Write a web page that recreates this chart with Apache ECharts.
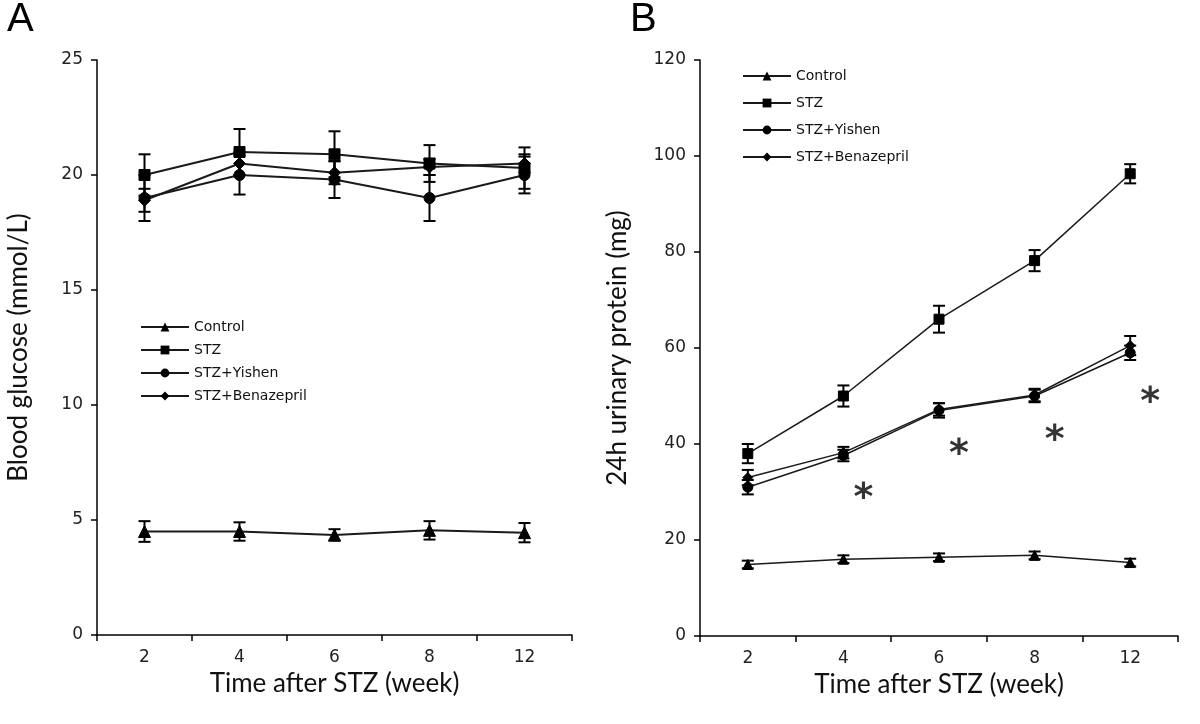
<!DOCTYPE html>
<html>
<head>
<meta charset="utf-8">
<script src="https://cdn.jsdelivr.net/npm/echarts@6/dist/echarts.min.js"></script>
<style>html,body{margin:0;padding:0;background:#fff;}#chart{width:1200px;height:724px;}</style>
</head>
<body>
<div id="chart"></div>
<script>
// ---- Data ----
const weeks = ['2', '4', '6', '8', '12'];
const seriesNames = ['Control', 'STZ', 'STZ+Yishen', 'STZ+Benazepril'];

// Panel A: blood glucose (mmol/L)
const glucoseControl = [4.5, 4.5, 4.35, 4.55, 4.45];
const glucoseControlErr = [0.45, 0.4, 0.25, 0.4, 0.42];
const glucoseSTZ = [20.0, 21.0, 20.9, 20.5, 20.3];
const glucoseSTZErr = [0.9, 1.0, 1.0, 0.8, 0.9];
const glucoseYishen = [19.0, 20.0, 19.8, 19.0, 20.0];
const glucoseYishenErr = [1.0, 0.85, 0.8, 1.0, 0.8];
const glucoseBenaz = [18.9, 20.5, 20.1, 20.35, 20.5];
const glucoseBenazErr = [0.5, 0.5, 0.5, 0.35, 0.4];

// Panel B: 24h urinary protein (mg)
const proteinControl = [14.9, 16.0, 16.4, 16.8, 15.3];
const proteinControlErr = [0.8, 0.8, 0.8, 0.8, 0.8];
const proteinSTZ = [38.0, 50.0, 66.0, 78.2, 96.3];
const proteinSTZErr = [2.0, 2.2, 2.8, 2.2, 2.0];
const proteinYishen = [31.0, 37.6, 47.0, 50.0, 59.0];
const proteinYishenErr = [1.5, 1.2, 1.5, 1.3, 1.5];
const proteinBenaz = [33.0, 38.2, 47.2, 50.2, 60.5];
const proteinBenazErr = [1.6, 1.2, 1.3, 1.3, 2.0];
const asteriskY = [null, 30.5, 39.8, 42.6, 50.5];

const glucoseTicks = {min: 0, max: 25, interval: 5};
const proteinTicks = {min: 0, max: 120, interval: 20};

// ---- Styling ----
const symbols = ['triangle', 'rect', 'circle', 'diamond'];
const symSizesA = [12, 11, 11, 12];
const symSizesB = [10, 10, 10, 10];
const lineColor = '#1a1a1a';
const tickFont = 'DejaVu Sans';
const titleFont = 'Lato';

const chart = echarts.init(document.getElementById('chart'), null, {renderer: 'canvas'});

function errData(vals, errs) {
  return vals.map((v, i) => [i, v - errs[i], v + errs[i]]);
}
function errSeries(vals, errs, axisIdx) {
  return {
    type: 'custom', xAxisIndex: axisIdx, yAxisIndex: axisIdx, z: 3, silent: true,
    data: errData(vals, errs),
    renderItem: function (params, api) {
      const lo = api.coord([api.value(0), api.value(1)]);
      const hi = api.coord([api.value(0), api.value(2)]);
      const w = 6;
      const st = {stroke: '#000', lineWidth: 2};
      return {type: 'group', children: [
        {type: 'line', shape: {x1: lo[0], y1: lo[1], x2: hi[0], y2: hi[1]}, style: st},
        {type: 'line', shape: {x1: lo[0] - w, y1: lo[1], x2: lo[0] + w, y2: lo[1]}, style: st},
        {type: 'line', shape: {x1: hi[0] - w, y1: hi[1], x2: hi[0] + w, y2: hi[1]}, style: st}
      ]};
    }
  };
}
function lineSeries(name, vals, idx, axisIdx, sizes, lw) {
  return {
    name: name, type: 'line', xAxisIndex: axisIdx, yAxisIndex: axisIdx, z: 4,
    data: vals, symbol: symbols[idx], symbolSize: sizes[idx],
    lineStyle: {color: lineColor, width: lw},
    itemStyle: {color: '#000', borderColor: '#000'},
    emphasis: {disabled: true}, animation: false
  };
}

const xAxisBase = {
  type: 'category', data: weeks, boundaryGap: true,
  axisLine: {lineStyle: {color: '#000', width: 1.5}},
  axisTick: {show: true, alignWithLabel: false, length: 6, lineStyle: {color: '#000', width: 1.5}},
  axisLabel: {color: '#222', fontFamily: tickFont, fontSize: 17, margin: 14},
  splitLine: {show: false},
  name: 'Time after STZ (week)', nameLocation: 'middle', nameGap: 36,
  nameTextStyle: {color: '#111', fontFamily: titleFont, fontSize: 26}
};
const yAxisBase = {
  type: 'value',
  axisLine: {show: true, lineStyle: {color: '#000', width: 1.5}},
  axisTick: {show: true, length: 6, lineStyle: {color: '#000', width: 1.5}},
  axisLabel: {color: '#222', fontFamily: tickFont, fontSize: 17, margin: 14},
  splitLine: {show: false},
  nameLocation: 'middle', nameRotate: 90,
  nameTextStyle: {color: '#111', fontFamily: titleFont, fontSize: 26}
};

const legendBase = {
  data: seriesNames, orient: 'vertical',
  itemWidth: 48, itemHeight: 11, selectedMode: false,
  textStyle: {color: '#111', fontFamily: tickFont, fontSize: 14}
};

const option = {
  backgroundColor: '#fff',
  animation: false,
  graphic: [
    {type: 'text', left: 7, top: 0, style: {text: 'A', font: '40px "Liberation Sans"', fill: '#000'}},
    {type: 'text', left: 630, top: 0, style: {text: 'B', font: '40px "Liberation Sans"', fill: '#000'}}
  ],
  grid: [
    {left: 97, top: 60, width: 475, height: 575},
    {left: 700, top: 60, width: 478, height: 576}
  ],
  xAxis: [
    Object.assign({}, xAxisBase, {gridIndex: 0}),
    Object.assign({}, xAxisBase, {gridIndex: 1})
  ],
  yAxis: [
    Object.assign({}, yAxisBase, glucoseTicks, {gridIndex: 0, name: 'Blood glucose (mmol/L)', nameGap: 65}),
    Object.assign({}, yAxisBase, proteinTicks, {gridIndex: 1, name: '24h urinary protein (mg)', nameGap: 69})
  ],
  legend: [
    Object.assign({}, legendBase, {left: 135, top: 315, itemGap: 9}),
    Object.assign({}, legendBase, {left: 737, top: 64, itemGap: 13})
  ],
  series: [
    errSeries(glucoseControl, glucoseControlErr, 0),
    errSeries(glucoseSTZ, glucoseSTZErr, 0),
    errSeries(glucoseYishen, glucoseYishenErr, 0),
    errSeries(glucoseBenaz, glucoseBenazErr, 0),
    lineSeries('Control', glucoseControl, 0, 0, symSizesA, 2),
    lineSeries('STZ', glucoseSTZ, 1, 0, symSizesA, 2),
    lineSeries('STZ+Yishen', glucoseYishen, 2, 0, symSizesA, 2),
    lineSeries('STZ+Benazepril', glucoseBenaz, 3, 0, symSizesA, 2),

    errSeries(proteinControl, proteinControlErr, 1),
    errSeries(proteinSTZ, proteinSTZErr, 1),
    errSeries(proteinYishen, proteinYishenErr, 1),
    errSeries(proteinBenaz, proteinBenazErr, 1),
    lineSeries('Control', proteinControl, 0, 1, symSizesB, 1.5),
    lineSeries('STZ', proteinSTZ, 1, 1, symSizesB, 1.5),
    lineSeries('STZ+Yishen', proteinYishen, 2, 1, symSizesB, 1.5),
    lineSeries('STZ+Benazepril', proteinBenaz, 3, 1, symSizesB, 1.5),
    {
      type: 'scatter', xAxisIndex: 1, yAxisIndex: 1, silent: true, z: 5,
      data: asteriskY, symbolSize: 1, itemStyle: {color: 'rgba(0,0,0,0)'},
      label: {show: true, formatter: '*', position: 'inside', offset: [20, 10],
              color: '#000', fontFamily: 'DejaVu Sans', fontWeight: 'bold', fontSize: 38}
    }
  ]
};
chart.setOption(option);
</script>
</body>
</html>
